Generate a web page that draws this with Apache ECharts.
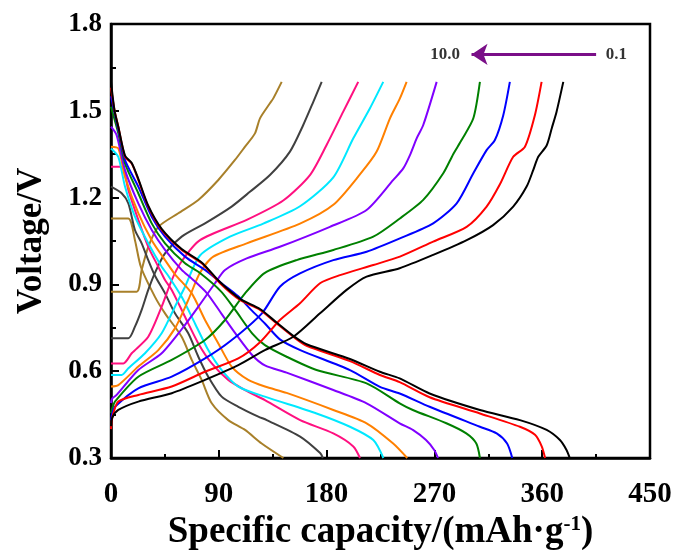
<!DOCTYPE html>
<html>
<head>
<meta charset="utf-8">
<script src="https://cdn.jsdelivr.net/npm/echarts@6/dist/echarts.min.js"></script>
<style>html,body{margin:0;padding:0;background:#fff}#c{width:675px;height:550px}</style>
</head>
<body>
<div id="c"></div>
<script>
// ---- axis ticks ----
const xTicks = [0, 90, 180, 270, 360, 450];
const yTicks = [0.3, 0.6, 0.9, 1.2, 1.5, 1.8];

// ---- curve colours (from 0.1 rate to 10.0 rate) ----
const curveColors = ['#000000', '#ff0000', '#0000ff', '#008000', '#8000ff', '#ff8000', '#00e8ff', '#ff1080', '#404040', '#a8802a'];

// ---- discharge curves [capacity mAh/g, voltage V] ----
const dischargeBlack = [[0,1.60],[3,1.50],[6.1,1.445],[11.7,1.345],[17.3,1.32],[22.8,1.265],[31.1,1.172],[42.3,1.092],[59,1.022],[75.7,0.976],[91,0.908],[107.7,0.85],[124.4,0.815],[138.3,0.768],[152.2,0.722],[163.3,0.693],[199.5,0.642],[224.5,0.598],[241,0.575],[266,0.523],[308,0.466],[341.4,0.431],[363.7,0.397],[374.8,0.362],[380.4,0.327],[383,0.30]];
const dischargeRed = [[0,1.58],[3,1.50],[6.1,1.445],[11.7,1.341],[17.3,1.318],[22.8,1.261],[31.1,1.169],[42.3,1.088],[59,1.019],[75.7,0.973],[91,0.904],[107.7,0.846],[124.4,0.812],[138.3,0.765],[152.2,0.719],[163.3,0.688],[199.5,0.635],[224.5,0.587],[241,0.562],[266,0.51],[308,0.454],[341.4,0.408],[354,0.38],[359.6,0.34],[362.4,0.30]];
const dischargeBlue = [[0,1.55],[6.1,1.434],[11.7,1.33],[22.8,1.238],[34,1.134],[45.1,1.065],[61.8,0.996],[78.5,0.95],[92,0.905],[106,0.86],[117,0.812],[128.5,0.765],[141,0.71],[158,0.673],[199.5,0.604],[224.5,0.546],[241,0.523],[266,0.477],[308,0.408],[322,0.385],[330.7,0.35],[335,0.30]];
const dischargeGreen = [[0,1.514],[6.1,1.422],[11.7,1.318],[22.8,1.215],[34,1.111],[45.1,1.042],[61.8,0.973],[74,0.94],[92,0.875],[104,0.81],[118,0.73],[128.5,0.69],[146.6,0.65],[171.6,0.604],[213.4,0.558],[241,0.489],[252,0.466],[280,0.42],[296.6,0.385],[305,0.35],[308,0.30]];
const dischargePurple = [[0,1.445],[4.7,1.416],[11.7,1.295],[22.8,1.18],[34,1.088],[45.1,1.019],[59,0.95],[67.4,0.92],[80,0.87],[92,0.80],[104,0.73],[118,0.655],[128.5,0.62],[146.6,0.595],[185.6,0.535],[213.4,0.489],[241,0.42],[252,0.397],[263,0.362],[270,0.327],[273,0.30]];
const dischargeOrange = [[0,1.376],[6.1,1.37],[11.7,1.272],[22.8,1.146],[34,1.053],[45.1,0.984],[53.4,0.935],[67.4,0.869],[78.5,0.777],[89.6,0.696],[100.7,0.616],[114.6,0.57],[128.5,0.547],[146.6,0.525],[185.6,0.466],[213.4,0.42],[235.6,0.35],[247.3,0.30]];
const dischargeCyan = [[0,1.37],[6.1,1.341],[11.7,1.238],[20,1.134],[31.1,1.042],[42.3,0.961],[47.8,0.93],[59,0.857],[70.1,0.765],[81.2,0.673],[92.4,0.604],[106.3,0.547],[128.5,0.512],[171.6,0.454],[199.5,0.408],[219,0.362],[227.4,0.30]];
const dischargeMagenta = [[0,1.307],[8.9,1.307],[14.5,1.226],[22.8,1.123],[31.1,1.03],[39.5,0.961],[45.1,0.915],[50.7,0.881],[61.8,0.788],[72.9,0.696],[84.1,0.627],[97.9,0.57],[111.9,0.535],[128.5,0.50],[157.9,0.431],[185.6,0.385],[202.3,0.34],[207.9,0.30]];
const dischargeGray = [[0,1.238],[8.9,1.215],[14.5,1.18],[20,1.088],[25.6,1.042],[31.1,0.984],[36.7,0.93],[45.1,0.869],[53.4,0.80],[64.5,0.731],[72.9,0.65],[81.2,0.581],[92.4,0.512],[106.3,0.477],[123,0.443],[130,0.431],[157.9,0.374],[174.6,0.317],[176.9,0.30]];
const dischargeOlive = [[0,1.128],[14.5,1.128],[20,1.053],[25,0.96],[36.7,0.857],[45.1,0.80],[59,0.719],[67.4,0.639],[75.7,0.57],[84.1,0.489],[97.9,0.431],[111.9,0.397],[125.8,0.35],[143.9,0.30]];

// ---- charge curves [capacity mAh/g, voltage V] ----
const chargeBlack = [[0,0.41],[1.1,0.44],[6.1,0.466],[22.8,0.495],[50.7,0.524],[78.5,0.57],[106.3,0.621],[128.5,0.673],[152.2,0.719],[174.5,0.80],[196.7,0.881],[213.4,0.927],[241,0.956],[269,1.002],[297,1.053],[319,1.105],[335.8,1.169],[347,1.238],[352.5,1.295],[356.7,1.341],[363.7,1.38],[368,1.44],[372,1.497],[377.6,1.60]];
const chargeRed = [[0,0.40],[1.1,0.44],[6.1,0.495],[22.8,0.518],[50.7,0.547],[78.5,0.598],[106.3,0.644],[124.4,0.70],[141,0.777],[157.8,0.835],[174.5,0.904],[191.2,0.932],[219,0.967],[241.2,0.996],[269,1.048],[296.9,1.099],[313.6,1.169],[324.7,1.246],[335.8,1.341],[345.6,1.376],[353.9,1.485],[359.5,1.60]];
const chargeBlue = [[0,0.43],[1.1,0.455],[3.3,0.477],[22.8,0.541],[50.7,0.581],[78.5,0.644],[100,0.705],[126,0.80],[141,0.892],[157.8,0.938],[185.6,0.984],[213.4,1.013],[241.2,1.059],[269,1.111],[288.6,1.18],[302.5,1.284],[313.6,1.364],[320.5,1.399],[327.5,1.485],[333,1.60]];
const chargeGreen = [[0,0.455],[1.1,0.472],[3.3,0.495],[22.8,0.581],[50.7,0.639],[78.5,0.708],[95.2,0.777],[111.9,0.869],[128.5,0.94],[155,0.984],[185.6,1.019],[219,1.065],[241.2,1.128],[260.7,1.192],[277.4,1.284],[285.7,1.35],[292.7,1.399],[302.5,1.474],[308,1.60]];
const chargePurple = [[0,0.49],[1.1,0.506],[4.7,0.518],[22.8,0.604],[42.3,0.662],[59,0.745],[72.9,0.823],[86.8,0.904],[95.2,0.95],[113.3,0.99],[141,1.03],[182.8,1.099],[213.4,1.157],[235.7,1.261],[244,1.301],[249.6,1.347],[255.2,1.405],[260.7,1.451],[271.9,1.60]];
const chargeOrange = [[0,0.547],[6.1,0.552],[22.8,0.616],[39.5,0.673],[53.4,0.748],[64.5,0.846],[74.3,0.94],[85.4,0.996],[113.3,1.042],[157.8,1.11],[185.6,1.175],[207.8,1.28],[221.8,1.359],[232.9,1.474],[241.2,1.543],[246.8,1.60]];
const chargeCyan = [[0,0.587],[8.9,0.587],[14.5,0.61],[28.4,0.662],[42.3,0.731],[53.4,0.823],[61.8,0.892],[74.3,1.0],[99.3,1.065],[127.1,1.11],[157.8,1.17],[185.6,1.27],[202.3,1.405],[216.2,1.509],[227.3,1.60]];
const chargeMagenta = [[0,0.627],[10.3,0.627],[17.3,0.662],[31.1,0.719],[42.3,0.823],[50.7,0.915],[59,0.98],[74.3,1.053],[113.3,1.123],[143.8,1.19],[166.1,1.278],[180,1.382],[193.9,1.497],[206.4,1.60]];
const chargeGray = [[0,0.714],[14.5,0.714],[20,0.754],[25.6,0.812],[31.1,0.881],[36.7,0.94],[45.1,1.007],[59,1.065],[78.5,1.111],[100.7,1.169],[116,1.22],[132.7,1.278],[149.4,1.359],[160.5,1.451],[168.9,1.531],[175.9,1.60]];
const chargeOlive = [[0,0.875],[21.4,0.875],[25.6,0.95],[31.1,1.03],[39.5,1.099],[56.2,1.146],[72.9,1.192],[89.6,1.261],[103.5,1.33],[111.9,1.376],[120.2,1.422],[124.4,1.474],[132.7,1.526],[135.5,1.543],[142.5,1.60]];

// ---- annotation ----
const arrowLine = [[405, 1.695], [301, 1.695]];
const arrowLabels = [[279, 1.695, '10.0'], [422, 1.695, '0.1']];

const dischargeCurves = [dischargeBlack, dischargeRed, dischargeBlue, dischargeGreen, dischargePurple, dischargeOrange, dischargeCyan, dischargeMagenta, dischargeGray, dischargeOlive];
const chargeCurves = [chargeBlack, chargeRed, chargeBlue, chargeGreen, chargePurple, chargeOrange, chargeCyan, chargeMagenta, chargeGray, chargeOlive];

const FONT = "'Times New Roman', 'Liberation Serif', serif";
const series = [];
for (let i = curveColors.length - 1; i >= 0; i--) {
  [chargeCurves[i], dischargeCurves[i]].forEach((d) => {
    series.push({
      type: 'line', data: d, showSymbol: false, symbol: 'none', smooth: 0.25,
      lineStyle: { color: curveColors[i], width: 2 }, itemStyle: { color: curveColors[i] },
      silent: true, z: 2
    });
  });
}
series.push({
  type: 'lines', coordinateSystem: 'cartesian2d', silent: true, z: 5,
  symbol: ['none', 'arrow'], symbolSize: [0, 16],
  lineStyle: { color: '#7a0f88', width: 3, opacity: 1, curveness: 0 },
  data: [{ coords: arrowLine }]
});
series.push({
  type: 'scatter', silent: true, symbolSize: 0, z: 6,
  data: arrowLabels,
  label: {
    show: true, position: 'inside', formatter: (p) => p.value[2],
    fontFamily: FONT, fontWeight: 'bold', fontSize: 17, color: '#000'
  }
});

const chart = echarts.init(document.getElementById('c'), null, { renderer: 'canvas' });
chart.setOption({
  backgroundColor: '#ffffff',
  animation: false,
  grid: { left: 111, right: 25, top: 24, bottom: 92, show: true, borderColor: '#000', borderWidth: 2.5, containLabel: false, outerBoundsMode: 'none' },
  xAxis: {
    type: 'value', min: xTicks[0], max: xTicks[xTicks.length - 1], interval: 90,
    axisLine: { show: true, onZero: false, lineStyle: { color: '#000', width: 2.5 } },
    axisTick: { show: true, inside: true, length: 8, lineStyle: { color: '#000', width: 2 } },
    minorTick: { show: true, splitNumber: 2, length: 4, lineStyle: { color: '#000', width: 2 } },
    splitLine: { show: false },
    axisLabel: { color: '#000', fontFamily: FONT, fontWeight: 'bold', fontSize: 29, margin: 22 },
    name: '{a|Specific capacity/(mAh·g}{s|-1}{a|)}',
    nameLocation: 'middle', nameGap: 41,
    nameTextStyle: {
      rich: {
        a: { fontFamily: FONT, fontWeight: 'bold', fontSize: 37, color: '#000' },
        s: { fontFamily: FONT, fontWeight: 'bold', fontSize: 21, color: '#000', verticalAlign: 'top', padding: [0, 0, 14, 0] }
      }
    }
  },
  yAxis: {
    type: 'value', min: yTicks[0], max: yTicks[yTicks.length - 1], interval: 0.3,
    axisLine: { show: true, onZero: false, lineStyle: { color: '#000', width: 2.5 } },
    axisTick: { show: true, inside: true, length: 8, lineStyle: { color: '#000', width: 2 } },
    minorTick: { show: true, splitNumber: 2, length: 5, lineStyle: { color: '#000', width: 2 } },
    splitLine: { show: false },
    axisLabel: { color: '#000', fontFamily: FONT, fontWeight: 'bold', fontSize: 27, margin: 9, formatter: (v) => v.toFixed(1) },
    name: 'Voltage/V', nameLocation: 'middle', nameGap: 62, nameRotate: 90,
    nameTextStyle: { fontFamily: FONT, fontWeight: 'bold', fontSize: 35, color: '#000' }
  },
  series: series
});
</script>
</body>
</html>
